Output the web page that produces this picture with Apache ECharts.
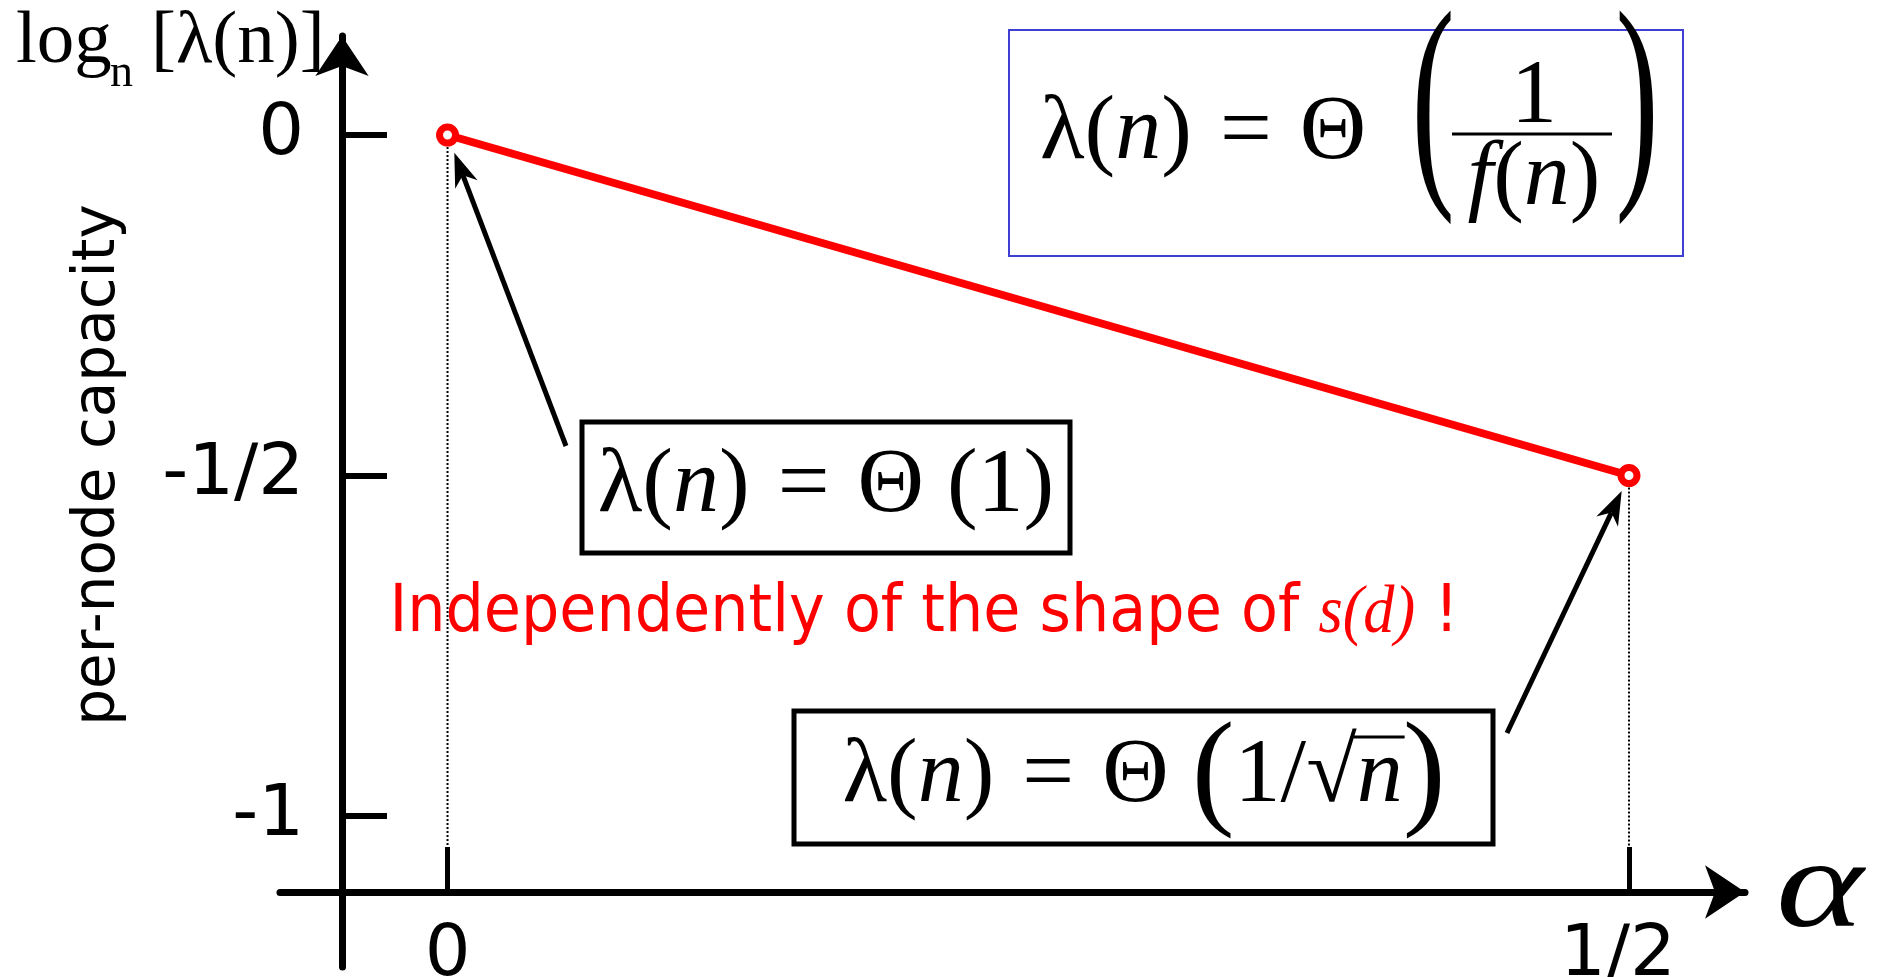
<!DOCTYPE html>
<html>
<head>
<meta charset="utf-8">
<title>per-node capacity vs alpha</title>
<script src="https://cdn.jsdelivr.net/npm/echarts@6.0.0/dist/echarts.min.js"></script>
<style>
  html, body { margin: 0; padding: 0; background: #ffffff; }
  #chart { width: 1879px; height: 977px; }
</style>
</head>
<body>
<div id="chart"></div>
<script>
// 数据：两端点 (alpha, log_n λ(n))
const alphaValues = [0, 0.5];
const capacityExp = [0, -0.5];

// 刻度
const xTickValues = [0, 0.5];
const xTickLabels = ['0', '1/2'];
const yTickValues = [0, -0.5, -1];
const yTickLabels = ['0', '-1/2', '-1'];

// 坐标轴范围（两轴互相穿出一点）
const X_MIN = -0.0709, X_MAX = 0.5491;
const Y_MIN = -1.2217, Y_MAX = 0.1454;
const X_AXIS_AT = -1.1116; // alpha 轴所在的纵坐标

const serif = "'Liberation Serif', 'DejaVu Serif', serif";
const sans = "'DejaVu Sans', 'Noto Sans', sans-serif";
const red = '#ff0000';
const MATH = 92; // 公式字号

const labelFor = (values, labels) => v => {
  const i = values.findIndex(t => Math.abs(t - v) < 1e-9);
  return i >= 0 ? labels[i] : '';
};

const chart = echarts.init(document.getElementById('chart'));

// 虚线：端点垂直落到 alpha 轴
const guideSeries = alphaValues.map((a, i) => ({
  type: 'line',
  silent: true,
  data: [[a, capacityExp[i]], [a, X_AXIS_AT]],
  symbol: 'none',
  lineStyle: { color: '#000', width: 2, type: 'dotted' },
  z: 1
}));

const option = {
  backgroundColor: '#ffffff',
  animation: false,
  grid: { left: 280, right: 134, top: 36, bottom: 10, containLabel: false, outerBoundsMode: 'none' },
  xAxis: {
    type: 'value',
    min: X_MIN,
    max: X_MAX,
    position: 'bottom',
    offset: -75,
    axisLine: {
      show: true,
      onZero: false,
      symbol: ['none', 'arrow'],
      symbolSize: [40, 40],
      lineStyle: { color: '#000', width: 7 }
    },
    axisTick: { show: true, inside: true, length: 45, customValues: xTickValues, lineStyle: { color: '#000', width: 5 } },
    axisLabel: {
      customValues: xTickValues,
      // 1/2 稍微偏左
      formatter: v => {
        const s = labelFor(xTickValues, xTickLabels)(v);
        return v > 0 ? '{h|' + s + '}' : s;
      },
      rich: { h: { fontFamily: sans, fontSize: 72, color: '#000', padding: [0, 22, 0, 0] } },
      margin: 28,
      fontFamily: sans,
      fontSize: 72,
      color: '#000'
    },
    splitLine: { show: false }
  },
  yAxis: {
    type: 'value',
    min: Y_MIN,
    max: Y_MAX,
    position: 'left',
    offset: -62,
    axisLine: {
      show: true,
      onZero: false,
      symbol: ['none', 'arrow'],
      symbolSize: [40, 40],
      lineStyle: { color: '#000', width: 7 }
    },
    axisTick: { show: true, inside: true, length: 45, customValues: yTickValues, lineStyle: { color: '#000', width: 6 } },
    axisLabel: {
      customValues: yTickValues,
      formatter: labelFor(yTickValues, yTickLabels),
      margin: 38,
      fontFamily: sans,
      fontSize: 72,
      color: '#000'
    },
    splitLine: { show: false }
  },
  series: [
    {
      name: 'capacity',
      type: 'line',
      silent: true,
      data: alphaValues.map((a, i) => [a, capacityExp[i]]),
      lineStyle: { color: red, width: 8 },
      symbol: 'circle',
      symbolSize: 16,
      showAllSymbol: true,
      itemStyle: { color: '#fff', borderColor: red, borderWidth: 7 },
      z: 3
    },
    ...guideSeries
  ]
};

chart.setOption(option);

// ---- 注释：公式框、箭头、文字 ----
const txt = (x, y, text, style, extra) => Object.assign(
  { type: 'text', x, y, silent: true, style: Object.assign({ text, fill: '#000' }, style) },
  extra || {}
);

const EQ_PAD = 28;
const mathRich = (size) => ({
  r: { fontFamily: serif, fontSize: size, fill: '#000' },
  i: { fontFamily: serif, fontStyle: 'italic', fontSize: size, fill: '#000' },
  e: { fontFamily: serif, fontSize: size, fill: '#000', padding: [0, EQ_PAD] },
  p: { fontFamily: serif, fontSize: size * 1.4, fill: '#000' }
});

// 用 canvas 量字宽，给根号上的横线定位
const measureCtx = document.createElement('canvas').getContext('2d');
const tokenWidth = (s, size, italic) => {
  measureCtx.font = (italic ? 'italic ' : '') + size + 'px ' + serif;
  return measureCtx.measureText(s).width;
};

const arrow = (tail, tip) => {
  const dx = tip[0] - tail[0], dy = tip[1] - tail[1];
  const L = Math.hypot(dx, dy);
  const ux = dx / L, uy = dy / L, px = -uy, py = ux;
  const hl = 34, hw = 12, notch = 24;
  const back = [tip[0] - ux * hl, tip[1] - uy * hl];
  const nb = [tip[0] - ux * notch, tip[1] - uy * notch];
  return [
    { type: 'line', silent: true, z: 10, shape: { x1: tail[0], y1: tail[1], x2: nb[0], y2: nb[1] }, style: { stroke: '#000', lineWidth: 5 } },
    { type: 'polygon', silent: true, z: 10, shape: { points: [tip, [back[0] + px * hw, back[1] + py * hw], nb, [back[0] - px * hw, back[1] - py * hw]] }, style: { fill: '#000' } }
  ];
};

// 箭头指向数据点附近
const ptA = chart.convertToPixel({ seriesIndex: 0 }, [alphaValues[0], capacityExp[0]]);
const ptB = chart.convertToPixel({ seriesIndex: 0 }, [alphaValues[1], capacityExp[1]]);
const near = (pt, tail, d) => {
  const dx = tail[0] - pt[0], dy = tail[1] - pt[1], L = Math.hypot(dx, dy);
  return [pt[0] + dx / L * d, pt[1] + dy / L * d];
};
const tailA = [566, 446];
const tailB = [1507, 733];

// 框 3 的公式：逐段量宽
const box3Tokens = [
  ['λ(', 'r'], ['n', 'i'], [')', 'r'], ['=', 'e'], ['Θ ', 'r'], ['(', 'p'], ['1/√', 'r'], ['n', 'i'], [')', 'p']
];
const box3Widths = box3Tokens.map(([s, k]) => {
  if (k === 'e') return tokenWidth(s, MATH, false) + EQ_PAD * 2;
  if (k === 'p') return tokenWidth(s, MATH * 1.4, false);
  return tokenWidth(s, MATH, k === 'i');
});
const box3Total = box3Widths.reduce((a, b) => a + b, 0);
const box3Left = 1144 - box3Total / 2;
const nIdx = 7;
const nStart = box3Left + box3Widths.slice(0, nIdx).reduce((a, b) => a + b, 0);
const nEnd = nStart + box3Widths[nIdx];

const elements = [
  // 纵轴名称 log_n [λ(n)]
  txt(16, 42, 'log', { fontFamily: serif, fontSize: 75, verticalAlign: 'middle' }),
  txt(110, 74, 'n', { fontFamily: serif, fontSize: 46, verticalAlign: 'middle' }),
  txt(151, 42, '[λ(n)]', { fontFamily: serif, fontSize: 75, verticalAlign: 'middle' }),

  // 竖排 per-node capacity
  txt(99, 465, 'per-node capacity', { fontFamily: sans, fontSize: 58, align: 'center', verticalAlign: 'middle' }, { rotation: Math.PI / 2 }),

  // 红色说明
  txt(924, 614, '{m|Independently of the shape of }{s|s(d)}{m| !}', {
    align: 'center', verticalAlign: 'middle',
    rich: {
      m: { fontFamily: sans, fontSize: 66, fill: red },
      s: { fontFamily: serif, fontStyle: 'italic', fontSize: 68, fill: red }
    }
  }, { scaleX: 0.915 }),

  // 横轴名称 α
  txt(1776, 892, 'α', { fontFamily: serif, fontStyle: 'italic', fontSize: 128, align: 'left', verticalAlign: 'middle' }, { scaleX: 1.3 }),

  // 公式框 1（蓝框）
  { type: 'rect', silent: true, z: 5, shape: { x: 1009, y: 30, width: 674, height: 226 }, style: { fill: '#fff', stroke: '#3f3fd4', lineWidth: 2 } },
  txt(1040, 134, '{r|λ(}{i|n}{r|)}{e|=}{r|Θ}', { align: 'left', verticalAlign: 'middle', rich: mathRich(MATH) }, { z: 6 }),
  txt(1433, 112, '(', { fontFamily: serif, fontSize: 236, align: 'center', verticalAlign: 'middle' }, { scaleX: 0.55, z: 6 }),
  txt(1637, 112, ')', { fontFamily: serif, fontSize: 236, align: 'center', verticalAlign: 'middle' }, { scaleX: 0.55, z: 6 }),
  txt(1534, 98, '1', { fontFamily: serif, fontSize: MATH, align: 'center', verticalAlign: 'middle' }, { z: 6 }),
  { type: 'line', silent: true, z: 6, shape: { x1: 1452, y1: 134, x2: 1612, y2: 134 }, style: { stroke: '#000', lineWidth: 3 } },
  txt(1534, 180, '{i|f}{r|(}{i|n}{r|)}', { align: 'center', verticalAlign: 'middle', rich: mathRich(MATH) }, { z: 6 }),

  // 公式框 2
  { type: 'rect', silent: true, z: 5, shape: { x: 582, y: 422, width: 488, height: 131 }, style: { fill: '#fff', stroke: '#000', lineWidth: 5 } },
  txt(826, 487, '{r|λ(}{i|n}{r|)}{e|=}{r|Θ (1)}', { align: 'center', verticalAlign: 'middle', rich: mathRich(MATH) }, { z: 6 }),

  // 公式框 3
  { type: 'rect', silent: true, z: 5, shape: { x: 794, y: 711, width: 699, height: 133 }, style: { fill: '#fff', stroke: '#000', lineWidth: 5 } },
  txt(box3Left, 777, box3Tokens.map(([s, k]) => '{' + k + '|' + s + '}').join(''), { align: 'left', verticalAlign: 'middle', rich: mathRich(MATH) }, { z: 6 }),
  { type: 'line', silent: true, z: 7, shape: { x1: nStart - 3, y1: 737, x2: nEnd + 2, y2: 737 }, style: { stroke: '#000', lineWidth: 3 } },

  ...arrow(tailA, near(ptA, tailA, 19)),
  ...arrow(tailB, near(ptB, tailB, 17))
];

chart.setOption({ graphic: { elements } });

window.addEventListener('resize', () => chart.resize());
</script>
</body>
</html>
